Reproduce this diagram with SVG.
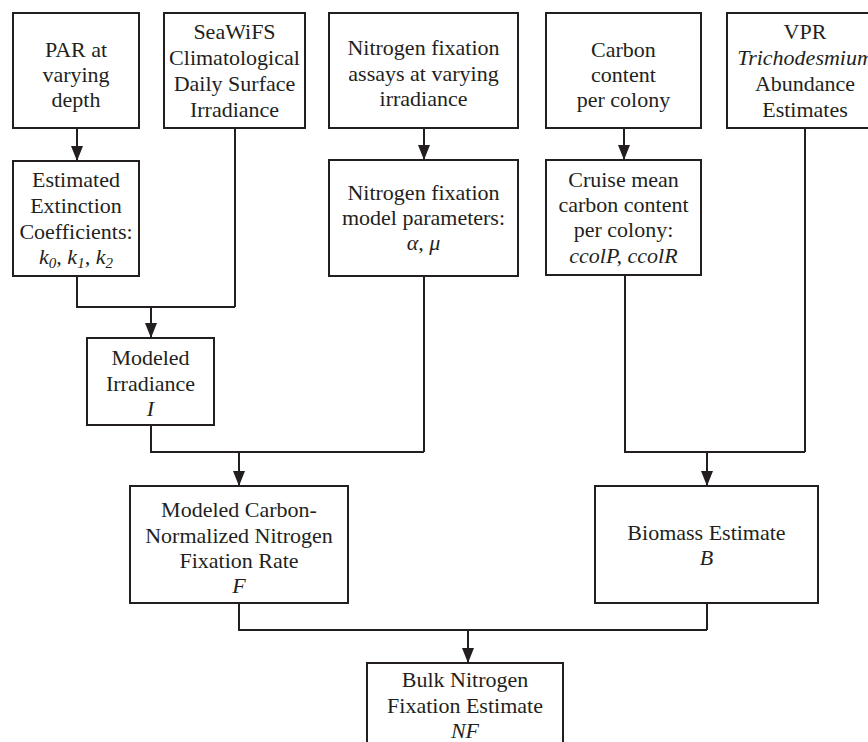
<svg xmlns="http://www.w3.org/2000/svg" width="868" height="742" viewBox="0 0 868 742">
<defs>
<style>
.box{fill:#ffffff;stroke:#231f20;stroke-width:2}
.t{font-size:22px;fill:#231f20;text-anchor:middle}
.i{font-style:italic}
.c{fill:none;stroke:#231f20;stroke-width:2}
</style>
<marker id="arr" viewBox="0 0 15 12" refX="15" refY="6" markerWidth="15" markerHeight="12" markerUnits="userSpaceOnUse" orient="auto">
<path d="M0,0 L15,6 L0,12 z" fill="#231f20"/>
</marker>
</defs>
<rect width="868" height="742" fill="#ffffff"/>

<g id="connectors">
<path class="c" d="M77,128 V161" marker-end="url(#arr)"/>
<path class="c" d="M77,276 V307 H235 M235,128 V307"/>
<path class="c" d="M151,307 V338" marker-end="url(#arr)"/>
<path class="c" d="M424,128 V160" marker-end="url(#arr)"/>
<path class="c" d="M624,128 V160" marker-end="url(#arr)"/>
<path class="c" d="M151,425 V452 H424 M424,276 V452"/>
<path class="c" d="M239,452 V486" marker-end="url(#arr)"/>
<path class="c" d="M625,275 V452 H805 M805,128 V452"/>
<path class="c" d="M707,452 V486" marker-end="url(#arr)"/>
<path class="c" d="M239,603 V630 H707 M707,603 V630"/>
<path class="c" d="M468,630 V663" marker-end="url(#arr)"/>
</g>

<g font-family="Liberation Serif, DejaVu Serif, serif">
<g id="par">
<rect class="box" x="13" y="13" width="126" height="115"/>
<text class="t" x="76" y="57">PAR at</text>
<text class="t" x="76" y="82">varying</text>
<text class="t" x="76" y="107">depth</text>
</g>

<g id="seawifs">
<rect class="box" x="164" y="13" width="141" height="115"/>
<text class="t" x="234.5" y="39">SeaWiFS</text>
<text class="t" x="234.5" y="65">Climatological</text>
<text class="t" x="234.5" y="91">Daily Surface</text>
<text class="t" x="234.5" y="117">Irradiance</text>
</g>

<g id="nfix-assays">
<rect class="box" x="329" y="13" width="189" height="115"/>
<text class="t" x="423.5" y="55">Nitrogen fixation</text>
<text class="t" x="423.5" y="81">assays at varying</text>
<text class="t" x="423.5" y="106">irradiance</text>
</g>

<g id="carbon">
<rect class="box" x="546" y="13" width="155" height="115"/>
<text class="t" x="623.5" y="57">Carbon</text>
<text class="t" x="623.5" y="82">content</text>
<text class="t" x="623.5" y="107">per colony</text>
</g>

<g id="vpr">
<rect class="box" x="727" y="13" width="157" height="115"/>
<text class="t" x="805" y="39">VPR</text>
<text class="t i" x="805" y="65">Trichodesmium</text>
<text class="t" x="805" y="91">Abundance</text>
<text class="t" x="805" y="117">Estimates</text>
</g>

<g id="extinction">
<rect class="box" x="13" y="161" width="126" height="115"/>
<text class="t" x="76" y="187">Estimated</text>
<text class="t" x="76" y="213">Extinction</text>
<text class="t" x="76" y="239">Coefficients:</text>
<text class="t i" x="76" y="264">k<tspan font-size="15" dy="4">0</tspan><tspan dy="-4">, k</tspan><tspan font-size="15" dy="4">1</tspan><tspan dy="-4">, k</tspan><tspan font-size="15" dy="4">2</tspan></text>
</g>

<g id="nfix-model">
<rect class="box" x="329" y="160" width="189" height="116"/>
<text class="t" x="423.5" y="200">Nitrogen fixation</text>
<text class="t" x="423.5" y="225">model parameters:</text>
<text class="t i" x="423.5" y="250">α, μ</text>
</g>

<g id="cruise">
<rect class="box" x="546" y="160" width="155" height="115"/>
<text class="t" x="623.5" y="187">Cruise mean</text>
<text class="t" x="623.5" y="212">carbon content</text>
<text class="t" x="623.5" y="237">per colony:</text>
<text class="t i" x="623.5" y="263">ccolP, ccolR</text>
</g>

<g id="irradiance">
<rect class="box" x="87" y="338" width="127" height="87"/>
<text class="t" x="150.5" y="365">Modeled</text>
<text class="t" x="150.5" y="391">Irradiance</text>
<text class="t i" x="150.5" y="416">I</text>
</g>

<g id="fixation-rate">
<rect class="box" x="130" y="486" width="218" height="117"/>
<text class="t" x="239" y="517">Modeled Carbon-</text>
<text class="t" x="239" y="543">Normalized Nitrogen</text>
<text class="t" x="239" y="568">Fixation Rate</text>
<text class="t i" x="239" y="593">F</text>
</g>

<g id="biomass">
<rect class="box" x="595" y="486" width="223" height="117"/>
<text class="t" x="706.5" y="540">Biomass Estimate</text>
<text class="t i" x="706.5" y="565">B</text>
</g>

<g id="bulk">
<rect class="box" x="367" y="663" width="196" height="100"/>
<text class="t" x="465" y="687">Bulk Nitrogen</text>
<text class="t" x="465" y="713">Fixation Estimate</text>
<text class="t i" x="465" y="738">NF</text>
</g>
</g>
</svg>
